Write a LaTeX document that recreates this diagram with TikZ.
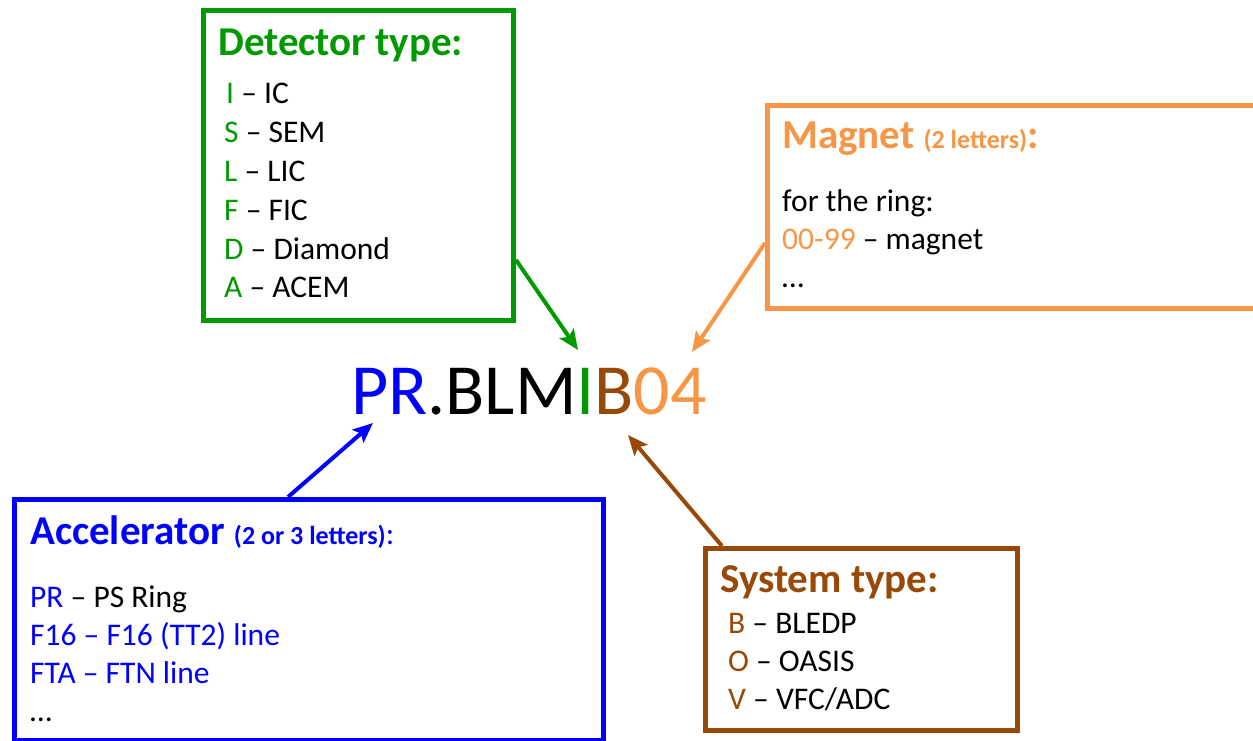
\documentclass[tikz,border=0pt]{standalone}
\usepackage{fontspec}
\setmainfont{Carlito}
\usetikzlibrary{arrows.meta}
\definecolor{dgreen}{RGB}{0,153,0}
\definecolor{lorange}{RGB}{247,150,70}
\definecolor{dbrown}{RGB}{152,72,7}
\definecolor{pblue}{RGB}{0,0,255}
\begin{document}
\begin{tikzpicture}[x=1pt,y=-1pt,
  box/.style={draw, line width=5pt, inner sep=0, anchor=north west},
  txt/.style={anchor=base west, inner sep=0, font=\fontsize{31.5}{38}\selectfont},
  head/.style={anchor=base west, inner sep=0, font=\fontsize{41}{48}\selectfont\bfseries},
  conn/.style={line width=4pt, -{Stealth[length=20pt,width=17pt,inset=4pt]}}]
\clip (0,0) rectangle (1253,740);
\fill[white] (0,0) rectangle (1253,740);
% boxes
\node[box, dgreen, minimum width=310pt, minimum height=310pt] (gbox) at (201,8) {};
\node[box, lorange, minimum width=520pt, minimum height=203pt] (obox) at (765,103) {};
\node[box, pblue, minimum width=589pt, minimum height=241pt] (bbox) at (12,497) {};
\node[box, dbrown, minimum width=312pt, minimum height=182pt] (sbox) at (703,546) {};
% green text
\node[head, text=dgreen] (gt) at (218,55) {Detector type:};
\node[txt] (g1) at (226,103) {\textcolor{dgreen}{I} – IC};
\node[txt] (g2) at (224,142) {\textcolor{dgreen}{S} – SEM};
\node[txt] (g3) at (224,181) {\textcolor{dgreen}{L} – LIC};
\node[txt] (g4) at (224,220) {\textcolor{dgreen}{F} – FIC};
\node[txt] (g5) at (224,259) {\textcolor{dgreen}{D} – Diamond};
\node[txt] (g6) at (224,297) {\textcolor{dgreen}{A} – ACEM};
% orange text
\node[head, text=lorange] (ot) at (782,148) {Magnet {\fontsize{26}{30}\selectfont(2 letters)}:};
\node[txt] (o1) at (782,211) {for the ring:};
\node[txt] (o2) at (782,249) {\textcolor{lorange}{00-99} – magnet};
\node[txt] (o3) at (782,287) {…};
% blue text
\node[head, text=pblue] (bt) at (30,544) {Accelerator {\fontsize{26}{30}\selectfont(2 or 3 letters)}\fontsize{31.5}{38}\selectfont\mdseries:};
\node[txt] (b1) at (30,607) {\textcolor{pblue}{PR} – PS Ring};
\node[txt, text=pblue] (b2) at (30,645) {F16 – F16 (TT2) line};
\node[txt, text=pblue] (b3) at (30,683) {FTA – FTN line};
\node[txt] (b4) at (30,721) {…};
% brown text
\node[head, text=dbrown] (st) at (720,592) {System type:};
\node[txt] (s1) at (728,633) {\textcolor{dbrown}{B} – BLEDP};
\node[txt] (s2) at (728,671) {\textcolor{dbrown}{O} – OASIS};
\node[txt] (s3) at (728,709) {\textcolor{dbrown}{V} – VFC/ADC};
% main name
\node[anchor=base west, inner sep=0, font=\fontsize{72}{80}\selectfont] (main) at (351,414)
  {\textcolor{pblue}{PR}.BLM\textcolor{dgreen}{I}\textcolor{dbrown}{B}\textcolor{lorange}{04}};
% tips
\coordinate (gtip) at (578,350);
\coordinate (otip) at (692,352);
\coordinate (btip) at (373,423);
\coordinate (stip) at (628,435);
% connectors
\draw[conn, dgreen] (gbox.east |- 0,260) -- (gtip);
\draw[conn, lorange] (obox.west |- 0,243) -- (otip);
\draw[conn, pblue] (bbox.north -| 288,0) -- (btip);
\draw[conn, dbrown] (sbox.north -| 722,0) -- (stip);
\end{tikzpicture}
\end{document}
